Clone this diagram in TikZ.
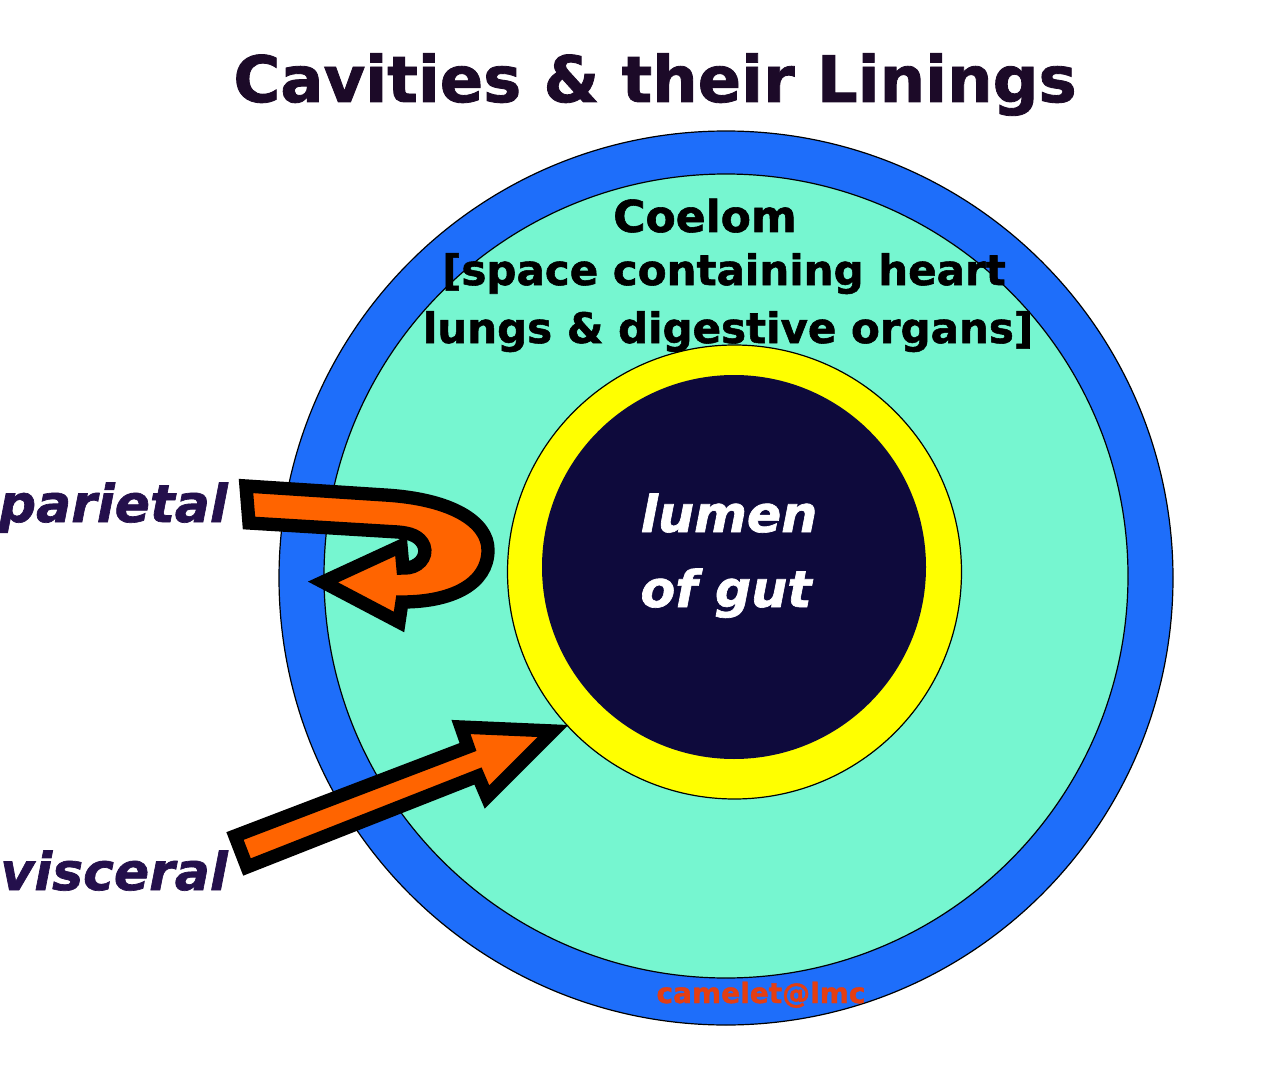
\documentclass[tikz,border=0pt]{standalone}
\usepackage{fontspec}
\setmainfont{DejaVu Sans}[BoldFeatures={FakeBold=1.3},BoldItalicFeatures={FakeBold=1.3}]
\usepackage{tikz}
\definecolor{wallblue}{RGB}{30,110,250}
\definecolor{coelomgreen}{RGB}{118,246,208}
\definecolor{liningyellow}{RGB}{255,255,0}
\definecolor{lumennavy}{RGB}{14,10,60}
\definecolor{arroworange}{RGB}{255,100,0}
\definecolor{titleink}{RGB}{28,10,40}
\definecolor{labelink}{RGB}{36,16,76}
\definecolor{creditred}{RGB}{228,62,18}

\begin{document}
\begin{tikzpicture}[x=0.75pt,y=0.75pt,yscale=-1,xscale=1,
    ring/.style={draw=black, line width=0.9pt},
    fatarrow/.style={draw=black, fill=arroworange, line width=10pt, line join=miter},
    bodytext/.style={anchor=base, inner sep=0pt, font=\bfseries\fontsize{31.5}{34}\selectfont},
    sidelabel/.style={anchor=base east, inner sep=0pt, text=labelink, font=\bfseries\itshape\fontsize{39}{42}\selectfont},
    lumentext/.style={anchor=base, inner sep=0pt, text=white, font=\bfseries\itshape\fontsize{38}{40}\selectfont}]

    \useasboundingbox (0,0) rectangle (1282,1070);

    %Shape: Circle [body wall]
    \draw[ring, fill=wallblue] (726,578) circle [radius=447];
    %Shape: Circle [coelom]
    \draw[ring, fill=coelomgreen] (726,576) circle [radius=402];
    %Shape: Circle [gut lining]
    \draw[ring, fill=liningyellow] (734.5,572) circle [radius=227];
    %Shape: Circle [lumen]
    \fill[lumennavy] (734,567) circle [radius=192];

    %Text title
    \node[anchor=base, inner sep=0pt, text=titleink, font=\bfseries\fontsize{48}{52}\selectfont] (title) at (655,102) {Cavities \& their Linings};

    %Text coelom
    \node[bodytext, font=\bfseries\fontsize{33}{36}\selectfont] (coelom) at (705,232) {Coelom};
    \node[bodytext] (space) at (724,285) {[space containing heart};
    \node[bodytext] (organs) at (728,343) {lungs \& digestive organs]};

    %Text lumen
    \node[lumentext] (lumen) at (729,532) {lumen};
    \node[lumentext] (gut) at (726,607) {of gut};

    %Text labels
    \node[sidelabel] (parietal) at (228,522) {parietal};
    \node[sidelabel] (visceral) at (228,890) {visceral};

    %Shape: U-turn arrow [parietal]
    \draw[fatarrow] (246,486) -- (385,495)
        .. controls (452,499) and (488,522) .. (488,550)
        .. controls (488,584) and (452,602) .. (402,602)
        -- (399,622) -- (323,582) -- (401,546) -- (403,568)
        .. controls (418,569) and (428,557) .. (424,546)
        .. controls (420,536) and (410,533) .. (398,532)
        -- (249,523) -- cycle;

    %Shape: Straight arrow [visceral]
    \draw[fatarrow] (235,836) -- (468,747) -- (461,727) -- (553,731)
        -- (487,797) -- (478,776) -- (247,867) -- cycle;

    %Text credit
    \node[anchor=base, inner sep=0pt, text=creditred, font=\bfseries\fontsize{21}{23}\selectfont] (credit) at (761,1003) {camelet@lmc};

\end{tikzpicture}
\end{document}
